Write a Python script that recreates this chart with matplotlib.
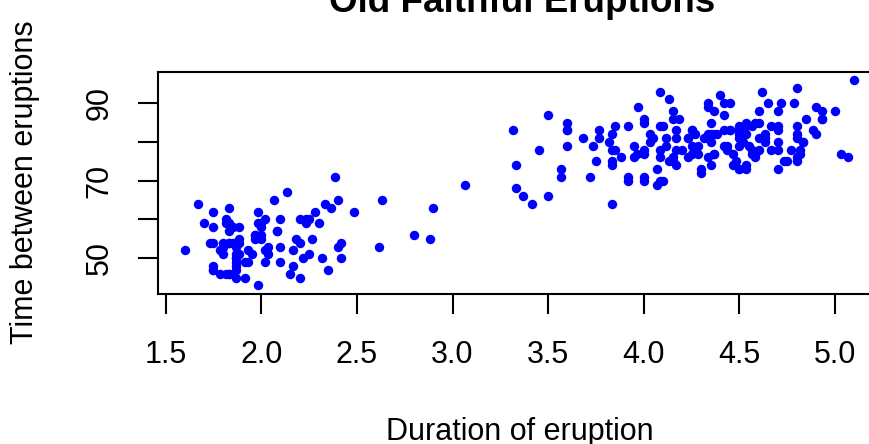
import matplotlib
matplotlib.use('Agg')
import matplotlib.pyplot as plt

# Old Faithful: eruption duration (min) and waiting time (min)
eruptions = [
    3.600, 1.800, 3.333, 2.283, 4.533, 2.883, 4.700, 3.600, 1.950, 4.350,
    1.833, 3.917, 4.200, 1.750, 4.700, 2.167, 1.750, 4.800, 1.600, 4.250,
    1.800, 1.750, 3.450, 3.067, 4.533, 3.600, 1.967, 4.083, 3.850, 4.433,
    4.300, 4.467, 3.367, 4.033, 3.833, 2.017, 1.867, 4.833, 1.833, 4.783,
    4.350, 1.883, 4.567, 1.750, 4.533, 3.317, 3.833, 2.100, 4.633, 2.000,
    4.800, 4.716, 1.833, 4.833, 1.733, 4.883, 3.717, 1.667, 4.567, 4.317,
    2.233, 4.500, 1.750, 4.800, 1.817, 4.400, 4.167, 4.700, 2.067, 4.700,
    4.033, 1.967, 4.500, 4.000, 1.983, 5.067, 2.017, 4.567, 3.883, 3.600,
    4.133, 4.333, 4.100, 2.633, 4.067, 4.933, 3.950, 4.517, 2.167, 4.000,
    2.200, 4.333, 1.867, 4.817, 1.833, 4.300, 4.667, 3.750, 1.867, 4.900,
    2.483, 4.367, 2.100, 4.500, 4.050, 1.867, 4.700, 1.783, 4.850, 3.683,
    4.733, 2.300, 4.900, 4.417, 1.700, 4.633, 2.317, 4.600, 1.817, 4.417,
    2.617, 4.067, 4.250, 1.967, 4.600, 3.767, 1.917, 4.500, 2.267, 4.650,
    1.867, 4.167, 2.800, 4.333, 1.833, 4.383, 1.883, 4.933, 2.033, 3.733,
    4.233, 2.233, 4.533, 4.817, 4.333, 1.983, 4.633, 2.017, 5.100, 1.800,
    5.033, 4.000, 2.400, 4.600, 3.567, 4.000, 4.500, 4.083, 1.800, 3.967,
    2.200, 4.150, 2.000, 3.833, 3.500, 4.583, 2.367, 5.000, 1.933, 4.617,
    1.917, 2.083, 4.583, 3.333, 4.167, 4.333, 4.500, 2.417, 4.000, 4.167,
    1.883, 4.583, 4.250, 3.767, 2.033, 4.433, 4.083, 1.833, 4.417, 2.183,
    4.800, 1.833, 4.800, 4.100, 3.966, 4.233, 3.500, 4.366, 2.250, 4.667,
    2.100, 4.350, 4.133, 1.867, 4.600, 1.783, 4.367, 3.850, 1.933, 4.500,
    2.383, 4.700, 1.867, 3.833, 3.417, 4.233, 2.400, 4.800, 2.000, 4.150,
    1.867, 4.267, 1.750, 4.483, 4.000, 4.117, 4.083, 4.267, 3.917, 4.550,
    4.083, 2.417, 4.183, 2.217, 4.450, 1.883, 1.850, 4.283, 3.950, 2.333,
    4.150, 2.350, 4.933, 2.900, 4.583, 3.833, 2.083, 4.367, 2.133, 4.350,
    2.200, 4.450, 3.567, 4.500, 4.150, 3.817, 3.917, 4.450, 2.000, 4.283,
    4.767, 4.533, 1.850, 4.250, 1.983, 2.250, 4.750, 4.117, 2.150, 4.417,
    1.817, 4.467,
]
waiting = [
    79, 54, 74, 62, 85, 55, 88, 85, 51, 85,
    54, 84, 78, 47, 83, 52, 62, 84, 52, 79,
    51, 47, 78, 69, 74, 83, 55, 76, 78, 79,
    73, 77, 66, 80, 74, 52, 48, 80, 59, 90,
    80, 58, 84, 58, 73, 83, 64, 53, 82, 59,
    75, 90, 54, 80, 54, 83, 71, 64, 77, 81,
    59, 84, 48, 82, 60, 92, 78, 78, 65, 73,
    82, 56, 79, 71, 62, 76, 60, 78, 76, 83,
    75, 82, 70, 65, 73, 88, 76, 80, 48, 86,
    60, 90, 50, 78, 63, 72, 84, 75, 51, 82,
    62, 88, 49, 83, 81, 47, 84, 52, 86, 81,
    75, 59, 89, 79, 59, 81, 50, 85, 59, 87,
    53, 69, 77, 56, 88, 81, 45, 82, 55, 90,
    45, 83, 56, 89, 46, 82, 51, 86, 53, 79,
    81, 60, 82, 77, 76, 59, 80, 49, 96, 53,
    77, 77, 65, 81, 71, 70, 81, 93, 53, 89,
    45, 86, 58, 78, 66, 76, 63, 88, 52, 93,
    49, 57, 77, 68, 81, 81, 73, 50, 85, 74,
    55, 77, 83, 83, 51, 78, 84, 46, 83, 55,
    81, 57, 76, 84, 77, 81, 87, 77, 51, 78,
    60, 82, 91, 53, 78, 46, 77, 84, 49, 83,
    71, 80, 49, 75, 64, 76, 53, 94, 55, 76,
    50, 82, 54, 75, 78, 79, 78, 78, 70, 79,
    70, 54, 86, 50, 90, 54, 54, 77, 79, 64,
    75, 47, 86, 63, 85, 82, 57, 82, 67, 74,
    54, 83, 73, 73, 88, 80, 71, 83, 56, 79,
    78, 84, 58, 83, 43, 60, 75, 81, 46, 90,
    46, 74,
]

x_ticks = [1.5, 2.0, 2.5, 3.0, 3.5, 4.0, 4.5, 5.0]
x_ticklabels = ['1.5', '2.0', '2.5', '3.0', '3.5', '4.0', '4.5', '5.0']
y_ticks = [50, 60, 70, 80, 90]
y_ticklabels = ['50', '', '70', '', '90']

title = 'Old Faithful Eruptions'
xlabel = 'Duration of eruption'
ylabel = 'Time between eruptions'

plt.rcParams['font.family'] = ['Liberation Sans', 'DejaVu Sans']

W, H, DPI = 869, 444, 100
fig = plt.figure(figsize=(W / DPI, H / DPI), dpi=DPI)

# plot box in pixels (right edge runs off the picture, as in the reference)
left, right, top, bottom = 158, 881, 71.7, 293.5
ax = fig.add_axes([left / W, 1 - bottom / H, (right - left) / W, (bottom - top) / H])

ax.plot(eruptions, waiting, 'o', color='blue', ms=6.8, mew=0)

# R style 4% padding on the data range
xr = max(eruptions) - min(eruptions)
yr = max(waiting) - min(waiting)
ax.set_xlim(min(eruptions) - 0.04 * xr, max(eruptions) + 0.04 * xr)
ax.set_ylim(min(waiting) - 0.04 * yr, max(waiting) + 0.04 * yr)

ax.set_xticks(x_ticks)
ax.set_xticklabels(x_ticklabels)
ax.set_yticks(y_ticks)
ax.set_yticklabels(y_ticklabels, rotation=90, va='center')

for s in ax.spines.values():
    s.set_linewidth(1.5)
ax.tick_params(axis='both', direction='out', length=14.4, width=1.5,
               labelsize=22, color='black')
ax.tick_params(axis='x', pad=19)
ax.tick_params(axis='y', pad=17)

cx = (left + right) / 2
fig.text(522 / W, 1 - 12 / H, title, ha='center', va='baseline',
         fontsize=26.5, fontweight='bold')
fig.text(cx / W, 1 - 417 / H, xlabel, ha='center', va='top', fontsize=22)
fig.text(25 / W, 1 - (top + bottom) / 2 / H, ylabel, ha='center', va='center',
         rotation=90, fontsize=22)

fig.savefig('out.png', dpi=DPI)
